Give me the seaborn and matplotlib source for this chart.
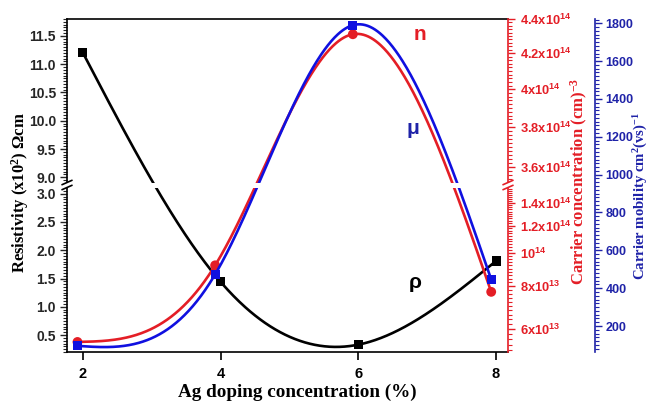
import numpy as np
import pandas as pd
import matplotlib
matplotlib.use("Agg")
import matplotlib.pyplot as plt
import seaborn as sns
from matplotlib.patches import Rectangle
from matplotlib.lines import Line2D

# ---------------- data ----------------
doping = [2, 4, 6, 8]
resistivity = [11.2, 1.44, 0.33, 1.81]          # x10^2 Ohm cm
doping_shift = [1.92, 3.92, 5.92, 7.93]
carrier_conc = [5.5e13, 9.2e13, 4.31e14, 7.7e13]  # cm^-3
mobility = [95, 473, 1790, 446]                  # cm^2/Vs
x_ticks = [2, 4, 6, 8]
res_ticks = [0.5, 1.0, 1.5, 2.0, 2.5, 3.0, 9.0, 9.5, 10.0, 10.5, 11.0, 11.5]
n_ticks = [6e13, 8e13, 1e14, 1.2e14, 1.4e14, 3.6e14, 3.8e14, 4e14, 4.2e14, 4.4e14]
n_labels = ["6x10^{13}", "8x10^{13}", "10^{14}", "1.2x10^{14}", "1.4x10^{14}",
            "3.6x10^{14}", "3.8x10^{14}", "4x10^{14}", "4.2x10^{14}", "4.4x10^{14}"]
mu_ticks = [200, 400, 600, 800, 1000, 1200, 1400, 1600, 1800]

RED = "#e41e26"
BLUE_LINE = "#1010e0"
BLUE = "#1f23a8"

sns.set_theme(style="ticks")
plt.rcParams["font.family"] = ["Liberation Sans", "DejaVu Sans"]
plt.rcParams["font.weight"] = "bold"
plt.rcParams["mathtext.fontset"] = "custom"
plt.rcParams["mathtext.rm"] = "Liberation Serif:bold"
plt.rcParams["mathtext.sf"] = "Liberation Sans:bold"
plt.rcParams["mathtext.bf"] = "Liberation Sans:bold"
plt.rcParams["mathtext.it"] = "Liberation Serif:bold:italic"
plt.rcParams["mathtext.default"] = "rm"

W, H = 649, 403
fig = plt.figure(figsize=(W / 100, H / 100), dpi=100)
fig.patch.set_facecolor("white")
L, R, T, B = 67, 508, 19, 352
ax = fig.add_axes([L / W, 1 - B / H, (R - L) / W, (B - T) / H])
ax_n = ax.twinx()
ax_mu = ax.twinx()

# ---------- broken scales (display units = pixels above bottom) ----------
res_xp = np.array([-50.0, 3.1, 8.9, 100.0])
res_fp = np.array([17 + 56.6 * (-50.5), 17 + 56.6 * 2.6, 175 + 56.6 * (-0.1), 175 + 56.6 * 91])


def res_fwd(v):
    return np.interp(np.asarray(v, float), res_xp, res_fp)


def res_inv(u):
    return np.interp(np.asarray(u, float), res_fp, res_xp)


LN0 = np.log10(6e13)
LN1 = np.log10(4.4e14)
La = LN0 + (165 - 23) / 343.0
Lb = LN1 - (333 - 169.5) / 1698.0
n_xp = np.array([LN0 - 5, La, Lb, LN1 + 2])
n_fp = np.array([23 - 343 * 5, 165, 169.5, 333 + 1698 * 2])


def n_fwd(v):
    return np.interp(np.log10(np.maximum(np.asarray(v, float), 1e5)), n_xp, n_fp)


def n_inv(u):
    return 10 ** np.interp(np.asarray(u, float), n_fp, n_xp)


ax.set_yscale("function", functions=(res_fwd, res_inv))
ax_n.set_yscale("function", functions=(n_fwd, n_inv))


def natural_spline(x, y, xf):
    x = np.asarray(x, float); y = np.asarray(y, float)
    n = len(x); h = np.diff(x)
    A = np.zeros((n, n)); r = np.zeros(n)
    A[0, 0] = 1; A[-1, -1] = 1
    for i in range(1, n - 1):
        A[i, i - 1] = h[i - 1]; A[i, i] = 2 * (h[i - 1] + h[i]); A[i, i + 1] = h[i]
        r[i] = 3 * ((y[i + 1] - y[i]) / h[i] - (y[i] - y[i - 1]) / h[i - 1])
    c = np.linalg.solve(A, r)
    b = (y[1:] - y[:-1]) / h - h * (2 * c[:-1] + c[1:]) / 3
    d = (c[1:] - c[:-1]) / (3 * h)
    idx = np.clip(np.searchsorted(x, xf) - 1, 0, n - 2)
    dx = xf - x[idx]
    return y[idx] + b[idx] * dx + c[idx] * dx ** 2 + d[idx] * dx ** 3


LW = 1.9
# black: resistivity
xf = np.linspace(doping[0], doping[-1], 500)
res_curve = res_inv(natural_spline(doping, res_fwd(resistivity), xf))
sns.lineplot(x=xf, y=res_curve, ax=ax, color="black", lw=LW, sort=False, estimator=None)
sns.scatterplot(x=doping, y=resistivity, ax=ax, marker="s", s=42, color="black",
                edgecolor="none", zorder=5)

# red: carrier concentration
xf2 = np.linspace(doping_shift[0], doping_shift[-1], 500)
n_curve = n_inv(natural_spline(doping_shift, n_fwd(carrier_conc), xf2))
sns.lineplot(x=xf2, y=n_curve, ax=ax_n, color=RED, lw=LW, sort=False, estimator=None)
sns.scatterplot(x=doping_shift, y=carrier_conc, ax=ax_n, marker="o", s=50, color=RED,
                edgecolor="none", zorder=5)

# blue: mobility
mu_curve = natural_spline(doping_shift, mobility, xf2)
sns.lineplot(x=xf2, y=mu_curve, ax=ax_mu, color=BLUE_LINE, lw=LW, sort=False, estimator=None)
sns.scatterplot(x=doping_shift, y=mobility, ax=ax_mu, marker="s", s=42, color=BLUE_LINE,
                edgecolor="none", zorder=5)

# ---------- limits ----------
ax.set_xlim(1.768, 8.174)
ax.set_ylim(0.2, 9 + 158 / 56.6)
ax_n.set_ylim(n_inv(0), n_inv(333))
ax_mu.set_ylim(62.6, 1822.7)

# ---------- ticks ----------
ax.set_xticks(x_ticks)
ax.set_xticklabels([str(v) for v in x_ticks])
ax.set_yticks(res_ticks)
ax.set_yticklabels([f"{v:.1f}" for v in res_ticks])
res_minor = [v for v in np.round(np.arange(0.2, 3.06, 0.05), 2)] + \
            [v for v in np.round(np.arange(8.95, 11.8, 0.05), 2)]
ax.set_yticks(res_minor, minor=True)

ax_n.set_yticks(n_ticks)
ax_n.set_yticklabels([r"$\mathsf{" + s + "}$" for s in n_labels])
n_minor = list(np.arange(5.2e13, 1.56e14, 2e12)) + list(np.arange(3.54e14, 4.41e14, 2e12))
ax_n.set_yticks(n_minor, minor=True)

ax_mu.set_yticks(mu_ticks)
ax_mu.set_yticklabels([str(v) for v in mu_ticks])
ax_mu.set_yticks(np.arange(80, 1821, 20), minor=True)

SPW = 1.2
for sp in ax.spines.values():
    sp.set_linewidth(SPW); sp.set_color("black")
ax.spines["right"].set_visible(False)
for s in ["top", "left", "bottom"]:
    ax_n.spines[s].set_visible(False)
    ax_mu.spines[s].set_visible(False)
ax_n.spines["right"].set_color(RED); ax_n.spines["right"].set_linewidth(SPW)
ax_mu.spines["right"].set_color(BLUE); ax_mu.spines["right"].set_linewidth(SPW)
ax_mu.spines["right"].set_position(("outward", 87 * 0.72))

ax.tick_params(axis="x", direction="out", length=6, width=1.2, pad=5, labelsize=10.5,
               colors="black")
ax.tick_params(axis="y", which="major", direction="out", length=5, width=1.0, pad=3,
               labelsize=10)
ax.tick_params(axis="y", which="minor", direction="out", length=3, width=0.8)
ax.tick_params(axis="x", which="minor", bottom=False)
ax_n.tick_params(axis="y", which="major", direction="out", length=5, width=1.0, pad=4,
                 labelsize=9.3, colors=RED)
ax_n.tick_params(axis="y", which="minor", direction="out", length=3, width=0.8, colors=RED)
ax_mu.tick_params(axis="y", which="major", direction="out", length=5, width=1.0, pad=2.5,
                  labelsize=9, colors=BLUE)
ax_mu.tick_params(axis="y", which="minor", direction="out", length=3, width=0.8, colors=BLUE)
for a in (ax, ax_n, ax_mu):
    a.set_ylabel("")
    a.set_xlabel("")
    a.patch.set_visible(False)

# ---------- break band & marks ----------
y0 = (B - 187.5) / (B - T)
y1 = (B - 182.5) / (B - T)
ax_mu.add_patch(Rectangle((-0.006, y0), 1.012, y1 - y0, transform=ax_mu.transAxes,
                          facecolor="white", edgecolor="none", zorder=20, clip_on=False))


def px(x, y):
    return (x / W, 1 - y / H)


for (xc, col) in [(L, "black"), (R, RED)]:
    for yc in (182.5, 187.5):
        p0 = px(xc - 5, yc + 2.2); p1 = px(xc + 5, yc - 2.2)
        fig.add_artist(Line2D([p0[0], p1[0]], [p0[1], p1[1]], transform=fig.transFigure,
                              color=col, lw=1.2))

# ---------- labels ----------
fig.text(20 / W, 1 - 193 / H, r"Resistivity (x10$^{2}$) Ωcm", rotation=90, ha="center",
         va="center", family="Liberation Serif", fontweight="bold", fontsize=12, color="black")
fig.text(297 / W, 1 - 392 / H, "Ag doping concentration (%)", ha="center", va="center",
         family="Liberation Serif", fontweight="bold", fontsize=13.8, color="black")
fig.text(579 / W, 1 - 181 / H, r"Carrier concentration (cm)$^{-3}$", rotation=90,
         ha="center", va="center", family="Liberation Serif", fontweight="bold",
         fontsize=12, color=RED)
fig.text(641 / W, 1 - 196 / H, r"Carrier mobility cm$^{2}$(vs)$^{-1}$", rotation=90,
         ha="center", va="center", family="Liberation Serif", fontweight="bold",
         fontsize=10.6, color=BLUE)
fig.text(420 / W, 1 - 35 / H, "n", ha="center", va="center", fontsize=15,
         fontweight="bold", color=RED)
fig.text(413 / W, 1 - 128 / H, "μ", ha="center", va="center", fontsize=15,
         fontweight="bold", color=BLUE)
fig.text(415 / W, 1 - 282 / H, "ρ", ha="center", va="center", fontsize=15,
         fontweight="bold", color="black")

fig.savefig("out.png", dpi=100)
